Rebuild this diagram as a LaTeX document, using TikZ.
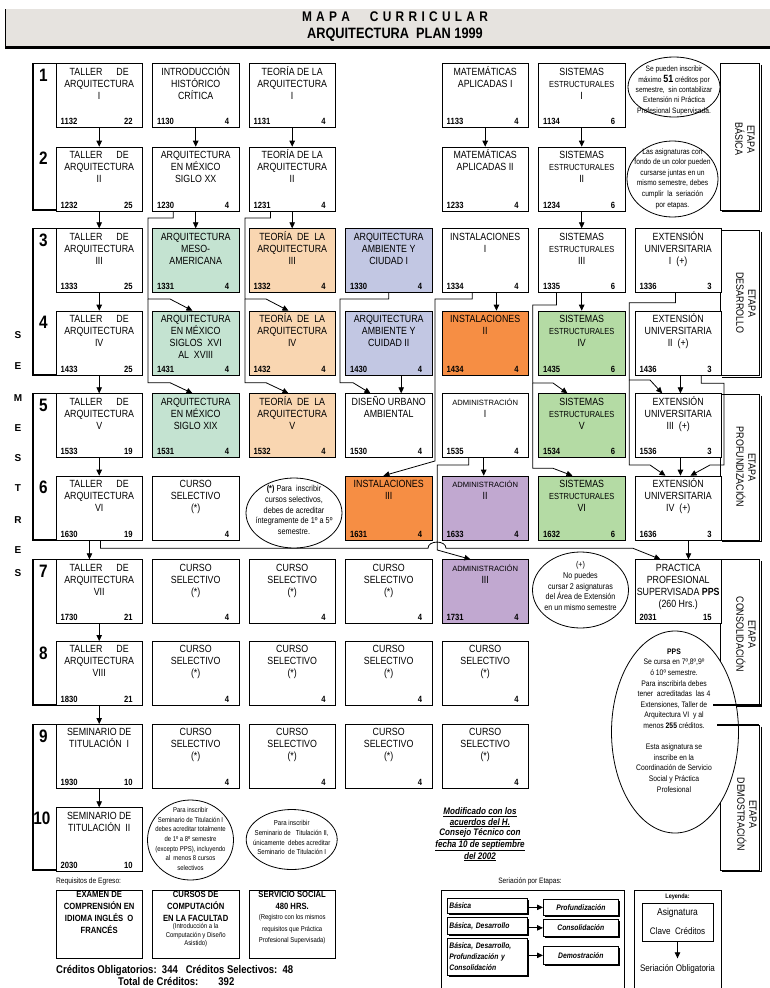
\documentclass[tikz,border=0pt]{standalone}
\usepackage{fontspec}
\setmainfont{Liberation Sans}[FakeStretch=0.85]
\newfontfamily\wf{Liberation Sans}
\usetikzlibrary{calc,arrows.meta,shapes.geometric,shadows}
\definecolor{cgreen}{HTML}{C4E3D1}
\definecolor{cpeach}{HTML}{F9D6B1}
\definecolor{cblue}{HTML}{C2C7E3}
\definecolor{corange}{HTML}{F68E44}
\definecolor{clgreen}{HTML}{B4DBA4}
\definecolor{cpurple}{HTML}{C1A8D0}
\definecolor{cbanner}{HTML}{E6E3DF}
\def\colA{55.5}\def\colB{152}\def\colC{248.5}\def\colD{345}\def\colE{441.5}\def\colF{538}\def\colG{634.5}
\def\rowA{63.3}\def\rowB{146.7}\def\rowC{228.3}\def\rowD{310.7}\def\rowE{393.3}
\def\rowF{475.7}\def\rowG{559.3}\def\rowH{641}\def\rowI{724}\def\rowJ{807.3}
\newcommand{\crs}[7]{%
  \node[cbox,fill=#4] (#1) at (#2,#3) {};
  \node[ctitle] (#1-t) at ([yshift=-2pt]#1.north) {\rule{0pt}{9.5pt}#5};
  \node[ccode] (#1-c) at ([xshift=5pt,yshift=3.5pt]#1.south west) {#6};
  \node[ccred] (#1-k) at ([xshift=-10pt,yshift=3.5pt]#1.south east) {#7};
}
\newcommand{\tal}[1]{\makebox[59pt][s]{TALLER\hfill DE}\\ARQUITECTURA\\#1}
\newcommand{\es}{{\fontsize{8.8}{12}\selectfont ESTRUCTURALES}}
\newcommand{\adm}[1]{\wf\fontsize{7.6}{12}\selectfont ADMINISTRACIÓN\\#1}
\newcommand{\sel}{CURSO\\SELECTIVO\\(*)}
\begin{document}
\begin{tikzpicture}[x=1pt,y=-1pt,
  cbox/.style={draw,line width=0.9pt,minimum width=86.5pt,minimum height=64pt,inner sep=0pt,anchor=north west},
  ctitle/.style={anchor=north,align=center,inner sep=0pt,font=\fontsize{10.4}{12}\selectfont},
  ccode/.style={anchor=base west,inner sep=0pt,font=\bfseries\fontsize{9}{10}\selectfont},
  ccred/.style={anchor=base east,inner sep=0pt,font=\bfseries\fontsize{9}{10}\selectfont},
  arr/.style={line width=0.8pt,-{Triangle[length=6pt,width=5.5pt]}},
  ell/.style={draw,ellipse,fill=white,line width=0.8pt,inner sep=0pt},
  etxt/.style={align=center,inner sep=0pt},
  etp/.style={rotate=-90,align=center,inner sep=0pt,font=\fontsize{10.5}{12}\selectfont},
  num/.style={inner sep=0pt,font=\bfseries\fontsize{18}{18}\selectfont},
  sem/.style={inner sep=0pt,font=\wf\bfseries\fontsize{10}{10}\selectfont},
  sbox/.style={draw,fill=white,line width=0.7pt,inner xsep=2pt,inner ysep=0pt,anchor=north west,
    font=\bfseries\itshape\fontsize{8}{11}\selectfont,
    drop shadow={shadow xshift=1.6pt,shadow yshift=-1.6pt,fill=black,opacity=1}},
  rbox/.style={draw,line width=0.9pt,minimum width=86.5pt,minimum height=68pt,inner sep=0pt,anchor=north west}
]
\useasboundingbox (0,0) rectangle (770,988);
\fill[white] (0,0) rectangle (770,988);
% banner
\fill[cbanner] (5,9) rectangle (770,47);
\draw[line width=0.8pt] (5,9) -- (5,47);
\draw[line width=2.4pt] (5,47.5) -- (770,47.5);
\def\ls{\kern4.3pt}
\node[inner sep=0pt,font=\bfseries\fontsize{14}{14}\selectfont] (title1) at (395,17)
  {M\ls A\ls P\ls A\hspace{20pt}C\ls U\ls R\ls R\ls I\ls C\ls U\ls L\ls A\ls R};
\node[inner sep=0pt,font=\bfseries\fontsize{15}{15}\selectfont] (title2) at (395,35) {ARQUITECTURA\ \ PLAN 1999};
% SEMESTRES
\foreach \l/\yy [count=\i] in {S/335,E/366,M/398,E/428,S/458,T/488,R/520,E/550,S/573}
  \node[sem] (sem\i) at (18,\yy) {\l};
% brackets
\foreach \t/\b in {63.3/210,228.3/375,393.3/540,559.3/705,724/870}{
  \draw[line width=0.6pt] (33,\t) -- (56,\t);
  \draw[line width=1.8pt] (33,\t) -- (33,\b) -- (56,\b);
}
\foreach \n/\yy in {1/\rowA,2/\rowB,3/\rowC,4/\rowD,5/\rowE,6/\rowF,7/\rowG,8/\rowH,9/\rowI}
  \node[num] (n\n) at (43.5,\yy+12) {\n};
\node[num] (n10) at (42,\rowJ+11) {10};
% etapa boxes
\foreach \t/\b in {63.3/210,230/375.5,394/540,559.3/705,725/870}{
  \draw[line width=0.8pt] (720,\t) rectangle (759,\b);
  \draw[line width=0.8pt] (761.5,\t+1.5) -- (761.5,\b+1.5) -- (722,\b+1.5);
}
\node[etp] (etB) at (745,139) {ETAPA\\BÁSICA};
\node[etp] (etD) at (746,303) {ETAPA\\DESARROLLO};
\node[etp] (etP) at (746,467) {ETAPA\\PROFUNDIZACIÓN};
\node[etp] (etC) at (746,634) {ETAPA\\CONSOLIDACIÓN};
\node[etp] (etM) at (747,814) {ETAPA\\DEMOSTRACIÓN};
% row 1
\crs{r1c1}{\colA}{\rowA}{white}{\tal{I}}{1132}{22}
\crs{r1c2}{\colB}{\rowA}{white}{INTRODUCCIÓN\\HISTÓRICO\\CRÍTICA}{1130}{4}
\crs{r1c3}{\colC}{\rowA}{white}{TEORÍA DE LA\\ARQUITECTURA\\I}{1131}{4}
\crs{r1c5}{\colE}{\rowA}{white}{MATEMÁTICAS\\APLICADAS I}{1133}{4}
\crs{r1c6}{\colF}{\rowA}{white}{SISTEMAS\\\es\\I}{1134}{6}
% row 2
\crs{r2c1}{\colA}{\rowB}{white}{\tal{II}}{1232}{25}
\crs{r2c2}{\colB}{\rowB}{white}{ARQUITECTURA\\EN MÉXICO\\SIGLO XX}{1230}{4}
\crs{r2c3}{\colC}{\rowB}{white}{TEORÍA DE LA\\ARQUITECTURA\\II}{1231}{4}
\crs{r2c5}{\colE}{\rowB}{white}{MATEMÁTICAS\\APLICADAS II}{1233}{4}
\crs{r2c6}{\colF}{\rowB}{white}{SISTEMAS\\\es\\II}{1234}{6}
% row 3
\crs{r3c1}{\colA}{\rowC}{white}{\tal{III}}{1333}{25}
\crs{r3c2}{\colB}{\rowC}{cgreen}{ARQUITECTURA\\MESO-\\AMERICANA}{1331}{4}
\crs{r3c3}{\colC}{\rowC}{cpeach}{TEORÍA\ \ DE\ \ LA\\ARQUITECTURA\\III}{1332}{4}
\crs{r3c4}{\colD}{\rowC}{cblue}{ARQUITECTURA\\AMBIENTE Y\\CIUDAD I}{1330}{4}
\crs{r3c5}{\colE}{\rowC}{white}{INSTALACIONES\\I}{1334}{4}
\crs{r3c6}{\colF}{\rowC}{white}{SISTEMAS\\\es\\III}{1335}{6}
\crs{r3c7}{\colG}{\rowC}{white}{EXTENSIÓN\\UNIVERSITARIA\\I\ \ (+)}{1336}{3}
% row 4
\crs{r4c1}{\colA}{\rowD}{white}{\tal{IV}}{1433}{25}
\crs{r4c2}{\colB}{\rowD}{cgreen}{ARQUITECTURA\\EN MÉXICO\\SIGLOS\ \ XVI\\AL\ \ XVIII}{1431}{4}
\crs{r4c3}{\colC}{\rowD}{cpeach}{TEORÍA\ \ DE\ \ LA\\ARQUITECTURA\\IV}{1432}{4}
\crs{r4c4}{\colD}{\rowD}{cblue}{ARQUITECTURA\\AMBIENTE Y\\CUIDAD II}{1430}{4}
\crs{r4c5}{\colE}{\rowD}{corange}{INSTALACIONES\\II}{1434}{4}
\crs{r4c6}{\colF}{\rowD}{clgreen}{SISTEMAS\\\es\\IV}{1435}{6}
\crs{r4c7}{\colG}{\rowD}{white}{EXTENSIÓN\\UNIVERSITARIA\\II\ \ (+)}{1436}{3}
% row 5
\crs{r5c1}{\colA}{\rowE}{white}{\tal{V}}{1533}{19}
\crs{r5c2}{\colB}{\rowE}{cgreen}{ARQUITECTURA\\EN MÉXICO\\SIGLO XIX}{1531}{4}
\crs{r5c3}{\colC}{\rowE}{cpeach}{TEORÍA\ \ DE\ \ LA\\ARQUITECTURA\\V}{1532}{4}
\crs{r5c4}{\colD}{\rowE}{white}{DISEÑO URBANO\\AMBIENTAL}{1530}{4}
\crs{r5c5}{\colE}{\rowE}{white}{\adm{I}}{1535}{4}
\crs{r5c6}{\colF}{\rowE}{clgreen}{SISTEMAS\\\es\\V}{1534}{6}
\crs{r5c7}{\colG}{\rowE}{white}{EXTENSIÓN\\UNIVERSITARIA\\III\ \ (+)}{1536}{3}
% row 6
\crs{r6c1}{\colA}{\rowF}{white}{\tal{VI}}{1630}{19}
\crs{r6c2}{\colB}{\rowF}{white}{\sel}{}{4}
\crs{r6c4}{\colD}{\rowF}{corange}{INSTALACIONES\\III}{1631}{4}
\crs{r6c5}{\colE}{\rowF}{cpurple}{\adm{II}}{1633}{4}
\crs{r6c6}{\colF}{\rowF}{clgreen}{SISTEMAS\\\es\\VI}{1632}{6}
\crs{r6c7}{\colG}{\rowF}{white}{EXTENSIÓN\\UNIVERSITARIA\\IV\ \ (+)}{1636}{3}
% row 7
\crs{r7c1}{\colA}{\rowG}{white}{\tal{VII}}{1730}{21}
\crs{r7c2}{\colB}{\rowG}{white}{\sel}{}{4}
\crs{r7c3}{\colC}{\rowG}{white}{\sel}{}{4}
\crs{r7c4}{\colD}{\rowG}{white}{\sel}{}{4}
\crs{r7c5}{\colE}{\rowG}{cpurple}{\adm{III}}{1731}{4}
\crs{r7c7}{\colG}{\rowG}{white}{PRACTICA\\PROFESIONAL\\SUPERVISADA \textbf{PPS}\\(260 Hrs.)}{2031}{15}
% row 8
\crs{r8c1}{\colA}{\rowH}{white}{\tal{VIII}}{1830}{21}
\crs{r8c2}{\colB}{\rowH}{white}{\sel}{}{4}
\crs{r8c3}{\colC}{\rowH}{white}{\sel}{}{4}
\crs{r8c4}{\colD}{\rowH}{white}{\sel}{}{4}
\crs{r8c5}{\colE}{\rowH}{white}{\sel}{}{4}
% row 9
\crs{r9c1}{\colA}{\rowI}{white}{SEMINARIO DE\\TITULACIÓN\ \ I}{1930}{10}
\crs{r9c2}{\colB}{\rowI}{white}{\sel}{}{4}
\crs{r9c3}{\colC}{\rowI}{white}{\sel}{}{4}
\crs{r9c4}{\colD}{\rowI}{white}{\sel}{}{4}
\crs{r9c5}{\colE}{\rowI}{white}{\sel}{}{4}
% row 10
\crs{r10c1}{\colA}{\rowJ}{white}{SEMINARIO DE\\TITULACIÓN\ \ II}{2030}{10}
% ---- connectors: verticals
\foreach \a/\b in {r1c1/r2c1,r2c1/r3c1,r3c1/r4c1,r4c1/r5c1,r5c1/r6c1,r7c1/r8c1,r8c1/r9c1,r9c1/r10c1,
  r1c2/r2c2,r2c2/r3c2,r1c3/r2c3,r2c3/r3c3,r1c5/r2c5,r1c6/r2c6,r2c6/r3c6,r3c6/r4c6}
  \draw[arr] (\a) -- (\b);
\draw[arr] ([xshift=-9.75pt]r6c1.south) -- ([xshift=-9.75pt]r7c1.north);
\draw[arr] ([xshift=11.25pt]r3c5.south) -- ([xshift=11.25pt]r4c5.north);
\draw[arr] ([xshift=12.5pt]r4c4.south) -- ([xshift=12.5pt]r5c4.north);
\draw[arr] ([xshift=2.25pt]r4c7.south) -- ([xshift=2.25pt]r5c7.north);
\draw[arr] ([xshift=2.25pt]r5c7.south) -- ([xshift=2.25pt]r6c7.north);
\draw[arr] ([xshift=10.25pt]r6c7.south) -- ([xshift=10.25pt]r7c7.north);
\draw[arr] ([xshift=-1.5pt]r5c5.south) -- ([xshift=-1.5pt]r6c5.north);
% ---- routed connectors
\coordinate (j1) at (148,299);
\draw[arr] ([xshift=-22.5pt]r2c2.south) |- (148,218) -- (j1) -- (170,299) -- ([xshift=-3.25pt]r4c2.north);
\draw[arr] (j1) -- (148,382.7) -- (170,382.7) -- ([xshift=-3.25pt]r5c2.north);
\coordinate (j2) at (245,299);
\draw[arr] ([xshift=-21.75pt]r2c3.south) |- (245,218) -- (j2) -- (266,299) -- ([xshift=-3.75pt]r4c3.north);
\draw[arr] (j2) -- (245,382.7) -- (266,382.7) -- ([xshift=-3.75pt]r5c3.north);
\draw[arr] (r3c4.south) |- (340,299) -- (340,382.7) -- (353,382.7) -- ([xshift=-18.25pt]r5c4.north);
\draw[arr] ([xshift=-13pt]r3c5.south) |- (435,299) -- (435,461) -- ([xshift=-5.25pt]r6c4.north);
\coordinate (j3) at (532.7,383);
\draw[arr] ([xshift=-25.25pt]r3c6.south) |- (532.7,305) -- (j3) -- (553,383) -- ([xshift=-14.25pt]r5c6.north);
\draw[arr] (j3) -- (532.7,468.3) -- (553,468.3) -- ([xshift=-9.25pt]r6c6.north);
\coordinate (j4) at (629.3,380);
\draw[arr] ([xshift=-2.75pt]r3c7.south) |- (629.3,302.7) -- (j4) -- (650,380) -- ([xshift=-16pt]r5c7.north);
\draw[arr] (j4) -- (629.3,465) -- (650,465) -- ([xshift=-12.75pt]r6c7.north);
\draw[arr] ([xshift=23pt]r4c7.south) |- (724,383.3) -- (724,465) -- (710,465) -- ([xshift=12.25pt]r6c7.north);
\draw[arr] ([xshift=-16.5pt]r5c5.south) |- (437.3,465) -- (437.3,550) -- ([xshift=-14.75pt]r7c5.north);
\draw[arr] ([xshift=1.25pt]r6c1.south) |- (428,548.3) .. controls (428,540) and (446,540) .. (446,548.3)
  -- (633,548.3) -- ([xshift=-17.75pt]r7c7.north);
% ---- ellipses
\node[ell,minimum width=92pt,minimum height=60pt] (e1) at (674,87) {};
\node[etxt,font=\fontsize{7.8}{10.3}\selectfont] (e1t) at (674,90.5)
  {Se pueden inscribir\\máximo {\bfseries\fontsize{10.5}{10.3}\selectfont 51} créditos por\\semestre,\ \ sin contabilizar\\Extensión ni Práctica\\Profesional Supervisada.};
\node[ell,minimum width=91pt,minimum height=76pt] (e2) at (672.5,179) {};
\node[etxt,font=\fontsize{7.9}{10.6}\selectfont] (e2t) at (672.5,178.5)
  {Las asignaturas con\\fondo de un color pueden\\cursarse juntas en un\\mismo semestre, debes\\cumplir\ \ la\ \ seriación\\por etapas.};
\node[ell,minimum width=96pt,minimum height=70pt] (e3) at (294,513) {};
\node[etxt,font=\fontsize{8.6}{10.6}\selectfont] (e3t) at (294,510)
  {\textbf{(*)} Para\ \ inscribir\\cursos selectivos,\\debes de acreditar\\íntegramente de 1º a 5º\\semestre.};
\node[ell,minimum width=96pt,minimum height=76pt] (e4) at (580.5,590) {};
\node[etxt,font=\fontsize{8.4}{10.6}\selectfont] (e4t) at (580.5,586)
  {(+)\\No puedes\\cursar 2 asignaturas\\del Área de Extensión\\en un mismo semestre};
\node[ell,minimum width=127pt,minimum height=202pt] (e5) at (675,732) {};
\node[etxt,font=\fontsize{8}{10.6}\selectfont] (e5t) at (674,720.5)
  {\textbf{PPS}\\Se cursa en 7º,8º,9º\\ó 10º semestre.\\Para inscribirla debes\\tener\ \ acreditadas\ \ las 4\\Extensiones, Taller de\\Arquitectura VI\ \ y al\\menos \textbf{255} créditos.\\[10.6pt]Esta asignatura se\\inscribe en la\\Coordinación de Servicio\\Social y Práctica\\Profesional};
\draw[line width=1.6pt] (713,705) -- (761.5,705);
\draw[line width=1.6pt] (717,725) -- (759,725);
\node[ell,minimum width=86pt,minimum height=80pt] (e6) at (190.5,840) {};
\node[etxt,font=\fontsize{7}{9.6}\selectfont] (e6t) at (190.5,839)
  {Para inscribir\\Seminario de Titulación I\\debes acreditar totalmente\\de 1º a 8º semestre\\(excepto PPS), incluyendo\\al\ \ menos 8 cursos\\selectivos};
\node[ell,minimum width=91pt,minimum height=60pt] (e7) at (291.7,839.5) {};
\node[etxt,font=\fontsize{7.2}{9.9}\selectfont] (e7t) at (291.7,837.5)
  {Para inscribir\\Seminario de\ \ \ Titulación II,\\únicamente\ \ debes acreditar\\Seminario\ \ de Titulación I};
\node[etxt,font=\bfseries\itshape\fontsize{9.5}{10.4}\selectfont] (mod) at (480,834.5)
  {\underline{Modificado con los}\\\underline{acuerdos del H.}\\\underline{Consejo Técnico con}\\\underline{fecha 10 de septiembre}\\\underline{del 2002}};
% ---- bottom: requisitos
\node[anchor=west,inner sep=0pt,font=\fontsize{7.8}{9}\selectfont] (req) at (56,881) {Requisitos de Egreso:};
\node[rbox] (q1) at (55.5,890) {};
\node[rbox] (q2) at (152,890) {};
\node[rbox] (q3) at (248.5,890) {};
\node[anchor=north,align=center,inner sep=0pt,font=\bfseries\fontsize{9}{12}\selectfont] (q1t) at ([yshift=-1pt]q1.north)
  {EXAMEN DE\\COMPRENSIÓN EN\\IDIOMA INGLÉS\ \ O\\FRANCÉS};
\node[anchor=north,align=center,inner sep=0pt,font=\bfseries\fontsize{9}{12}\selectfont] (q2t) at ([yshift=-1pt]q2.north)
  {CURSOS DE\\COMPUTACIÓN\\EN LA FACULTAD};
\node[anchor=north,align=center,inner sep=0pt,font=\fontsize{7}{8.8}\selectfont] (q2s) at ([yshift=-33pt]q2.north)
  {(Introducción a la\\Computación y Diseño\\Asistido)};
\node[anchor=north,align=center,inner sep=0pt,font=\bfseries\fontsize{9}{12}\selectfont] (q3t) at ([yshift=-1pt]q3.north)
  {SERVICIO SOCIAL\\480 HRS.};
\node[anchor=north,align=center,inner sep=0pt,font=\fontsize{7}{11.8}\selectfont] (q3s) at ([yshift=-24pt]q3.north)
  {(Registro con los mismos\\requisitos que Práctica\\Profesional Supervisada)};
\node[anchor=base west,inner sep=0pt,font=\bfseries\fontsize{11.2}{12}\selectfont] (cred1) at (56,973)
  {Créditos Obligatorios:\ \ 344\ \ \ Créditos Selectivos:\ \ 48};
\node[anchor=base west,inner sep=0pt,font=\bfseries\fontsize{11.2}{12}\selectfont] (cred2) at (118,985.5)
  {Total de Créditos:\hspace{20pt}392};
% ---- seriacion por etapas
\node[inner sep=0pt,font=\fontsize{7.8}{9}\selectfont] (ser) at (530,881) {Seriación por Etapas:};
\draw[line width=0.9pt] (441,988) -- (441,890) -- (624,890) -- (624,988);
\node[sbox,minimum width=80pt,minimum height=15pt,text width=76pt,align=left] (sb1) at (447,898) {Básica};
\node[sbox,minimum width=75pt,minimum height=16pt,text width=71pt,align=center] (sp1) at (543,899) {Profundización};
\node[sbox,minimum width=80pt,minimum height=17pt,text width=76pt,align=left] (sb2) at (447,917) {Básica, Desarrollo};
\node[sbox,minimum width=75pt,minimum height=17pt,text width=71pt,align=center] (sp2) at (543,919) {Consolidación};
\node[sbox,minimum width=80pt,minimum height=37pt,text width=76pt,align=left] (sb3) at (447,938) {Básica, Desarrollo,\\Profundización y\\Consolidación};
\node[sbox,minimum width=75pt,minimum height=18pt,text width=71pt,align=center] (sp3) at (543,946) {Demostración};
\draw[arr] (sb1.east |- sp1.west) -- (sp1.west);
\draw[arr] (sb2.east |- sp2.west) -- (sp2.west);
\draw[arr] (sb3.east |- sp3.west) -- (sp3.west);
% ---- leyenda
\draw[line width=0.9pt] (634,988) -- (634,890) -- (721,890) -- (721,988);
\node[inner sep=0pt,font=\bfseries\fontsize{6.5}{8}\selectfont] (ley) at (677.5,897) {Leyenda:};
\node[draw,line width=0.8pt,minimum width=71pt,minimum height=38pt,inner sep=0pt,anchor=north] (lbox) at (677.5,903) {};
\node[inner sep=0pt,font=\fontsize{10}{12}\selectfont] (lasg) at (677.5,913) {Asignatura};
\node[inner sep=0pt,font=\fontsize{9.5}{12}\selectfont] (lclv) at (677.5,931) {Clave\ \ Créditos};
\node[inner sep=0pt,font=\fontsize{9.5}{12}\selectfont] (lser) at (677.5,969) {Seriación Obligatoria};
\draw[arr] (lbox.south) -- ([yshift=6pt]lser.north);
\end{tikzpicture}
\end{document}
